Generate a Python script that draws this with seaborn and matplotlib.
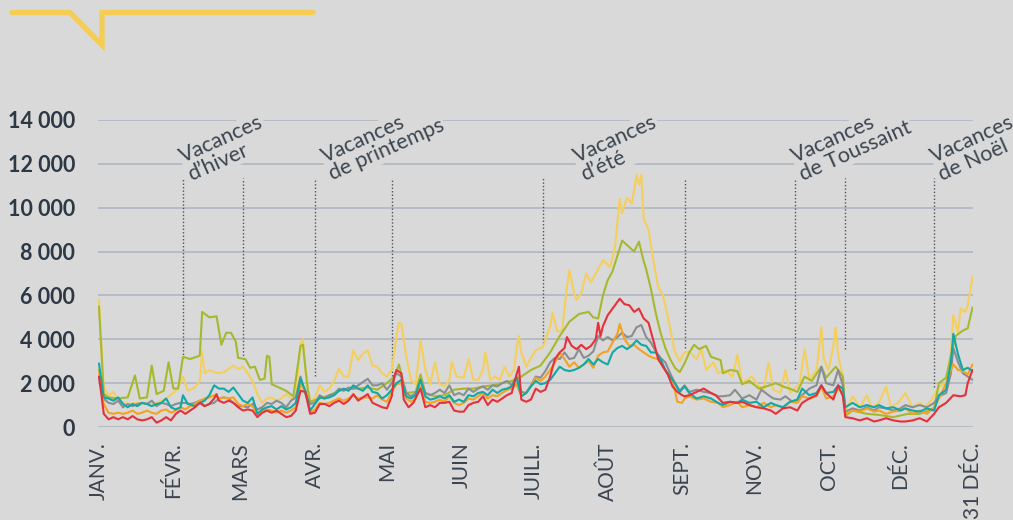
import pandas as pd
import matplotlib
matplotlib.use("Agg")
import matplotlib.pyplot as plt
from matplotlib.lines import Line2D
import seaborn as sns

# séries journalières : (jour de l'année, valeur)
jaune = [(0, 5800), (2, 1800), (4, 1450), (6, 1600), (8, 1200), (12, 1050), (16, 1100), (20, 1050), (24, 1100),
         (28, 1300), (32, 1650), (34, 2050), (35, 2300), (37, 1650), (40, 1800), (42, 2100), (43, 3450), (44, 2450),
         (46, 2600), (48, 2500), (50, 2450), (52, 2500), (54, 2650), (56, 2800), (58, 2650), (60, 2750), (62, 2450),
         (64, 2100), (66, 1500), (68, 1100), (70, 1300), (72, 1350), (74, 1200), (76, 1300), (78, 1500), (80, 1300),
         (82, 1350), (84, 3800), (85, 4000), (86, 2600), (88, 1100), (90, 1350), (92, 1900), (94, 1600), (96, 1750),
         (98, 2100), (100, 2650), (102, 2300), (104, 2300), (106, 3500), (108, 3050), (110, 3350), (112, 3500),
         (114, 2800), (116, 2750), (118, 2450), (120, 2300), (122, 2600), (124, 4150), (125, 4750), (126, 4700),
         (128, 3250), (130, 2150), (132, 1950), (134, 3950), (136, 2600), (138, 1950), (140, 2950), (142, 1950),
         (144, 1850), (146, 2150), (147, 2950), (149, 2300), (152, 2250), (154, 3100), (156, 2150), (158, 2150),
         (160, 2600), (161, 3400), (163, 2150), (165, 2300), (167, 2150), (169, 2750), (171, 2300), (173, 2600),
         (174, 3600), (175, 4150), (176, 3400), (178, 2750), (180, 3150), (182, 3500), (185, 3650), (188, 4600),
         (189, 5200), (191, 4350), (193, 4400), (195, 6400), (196, 7150), (198, 6100), (199, 5800), (201, 6100),
         (203, 7000), (205, 6600), (207, 7000), (210, 7600), (213, 7300), (215, 8200), (217, 10400), (218, 9750),
         (220, 10450), (222, 10200), (223, 10800), (224, 11500), (225, 11050), (226, 11500), (227, 9500),
         (229, 9000), (231, 7600), (233, 6400), (235, 6000), (237, 5050), (240, 3400), (242, 3000), (244, 3400),
         (246, 3450), (249, 3100), (251, 3550), (253, 2600), (256, 2950), (258, 2450), (261, 2600), (264, 2300),
         (266, 3300), (268, 2000), (272, 2300), (275, 1850), (277, 1700), (279, 2950), (281, 1700), (284, 1550),
         (286, 2600), (288, 1550), (292, 2000), (294, 3550), (296, 2150), (299, 2600), (301, 4550), (302, 3100),
         (304, 2600), (306, 3700), (307, 4550), (308, 3250), (310, 2300), (311, 750), (314, 1400), (317, 900),
         (320, 1450), (322, 900), (325, 1100), (328, 1850), (330, 900), (333, 1100), (336, 1550), (339, 900),
         (342, 1100), (344, 900), (347, 1250), (350, 1850), (353, 2000), (355, 3400), (356, 5100), (358, 4300),
         (359, 5400), (361, 5250), (362, 5550), (364, 6850)]

vert = [(0, 5500), (2, 1500), (4, 1350), (8, 1300), (12, 1350), (15, 2350), (17, 1300), (20, 1350), (22, 2800),
        (24, 1500), (27, 1650), (29, 2950), (31, 1750), (33, 1750), (35, 3200), (38, 3100), (42, 3250), (43, 5250),
        (46, 5000), (49, 5050), (51, 3750), (53, 4300), (55, 4300), (57, 3900), (58, 3150), (61, 3100), (63, 2700),
        (65, 2750), (67, 2150), (69, 2200), (70, 3250), (71, 3200), (72, 1950), (75, 1800), (78, 1650), (81, 1400),
        (84, 3700), (85, 3750), (87, 1700), (88, 1150), (92, 1300), (96, 1450), (100, 1650), (104, 1750),
        (108, 1750), (112, 1800), (116, 1700), (120, 2000), (123, 2300), (125, 2850), (128, 1550), (132, 1600),
        (134, 2400), (136, 1550), (140, 1400), (144, 1450), (148, 1700), (152, 1750), (156, 1750), (160, 1850),
        (164, 1900), (168, 2000), (172, 2100), (176, 2300), (180, 2600), (184, 2800), (188, 3400), (192, 4150),
        (196, 4800), (200, 5150), (204, 5250), (206, 5000), (208, 4950), (210, 6000), (212, 6700), (214, 7100),
        (216, 7800), (218, 8500), (220, 8300), (223, 8000), (225, 8450), (227, 7550), (228, 7200), (230, 6300),
        (232, 5200), (234, 4300), (236, 3600), (238, 3100), (240, 2700), (242, 2500), (244, 2900), (246, 3400),
        (248, 3750), (250, 3550), (253, 3700), (255, 3200), (259, 3050), (260, 2450), (263, 2600), (266, 2550),
        (268, 1950), (271, 2100), (275, 1750), (278, 1850), (282, 2000), (285, 1850), (289, 1700), (291, 1600),
        (294, 2300), (297, 2100), (301, 2750), (303, 2250), (307, 2750), (310, 2300), (311, 500), (314, 750),
        (320, 600), (325, 550), (331, 450), (337, 600), (342, 600), (348, 850), (350, 2000), (353, 2250),
        (355, 3250), (357, 4150), (360, 4400), (362, 4500), (364, 5450)]

gris = [(0, 2300), (2, 1300), (4, 1100), (6, 1050), (8, 1200), (10, 900), (12, 1050), (14, 950), (16, 1050),
        (18, 1100), (20, 1050), (22, 1200), (24, 950), (26, 1100), (28, 1050), (30, 950), (32, 1050), (34, 1100),
        (36, 1100), (38, 1050), (40, 1100), (42, 1200), (44, 950), (46, 1050), (48, 1100), (50, 1300), (52, 1350),
        (54, 1300), (56, 1100), (58, 950), (60, 950), (62, 900), (64, 1050), (66, 800), (68, 900), (70, 1100),
        (72, 1050), (74, 1200), (76, 1100), (78, 900), (80, 1200), (82, 1350), (84, 2300), (86, 1500), (88, 1050),
        (90, 1100), (92, 1450), (94, 1300), (96, 1450), (98, 1500), (100, 1750), (102, 1650), (104, 1800),
        (106, 1750), (108, 1900), (110, 2050), (112, 2200), (114, 1900), (116, 1900), (118, 2000), (120, 1700),
        (122, 2000), (124, 2450), (126, 2300), (128, 1550), (130, 1400), (132, 1550), (134, 2150), (136, 1550),
        (138, 1450), (140, 1550), (142, 1700), (144, 1550), (146, 1900), (148, 1450), (150, 1550), (152, 1450),
        (154, 1750), (156, 1600), (158, 1750), (160, 1850), (162, 1700), (164, 1900), (166, 1850), (168, 2000),
        (170, 2100), (172, 1900), (174, 2300), (176, 1600), (178, 1550), (180, 1900), (182, 2300), (184, 2250),
        (186, 2550), (188, 2950), (190, 3150), (192, 3100), (194, 3400), (196, 3100), (198, 3150), (200, 3550),
        (202, 3150), (204, 3250), (206, 3450), (208, 4150), (210, 3950), (212, 4100), (214, 3950), (216, 4100),
        (218, 4300), (220, 4100), (222, 4150), (224, 4550), (226, 4650), (228, 4100), (230, 3850), (232, 3450),
        (234, 3150), (236, 2950), (238, 2450), (240, 2000), (242, 1650), (244, 1900), (246, 1600), (249, 1700),
        (252, 1600), (255, 1550), (258, 1400), (260, 1400), (263, 1450), (265, 1700), (268, 1300), (271, 1450),
        (274, 1250), (276, 1700), (279, 1450), (281, 1300), (284, 1250), (286, 1400), (289, 1150), (291, 1250),
        (294, 1550), (296, 1750), (299, 1900), (301, 2750), (303, 2000), (306, 1900), (308, 2600), (310, 1900),
        (311, 700), (314, 850), (317, 750), (320, 900), (323, 750), (325, 900), (328, 850), (331, 750), (334, 850),
        (336, 1000), (339, 900), (342, 1000), (345, 900), (348, 1100), (350, 1400), (353, 1550), (355, 2450),
        (356, 3600), (358, 2950), (360, 2450), (362, 2300), (364, 2150)]

orange = [(0, 2600), (2, 1050), (4, 650), (6, 600), (8, 650), (10, 600), (12, 650), (14, 750), (16, 600),
          (18, 650), (20, 750), (22, 650), (24, 600), (26, 750), (28, 800), (30, 650), (32, 750), (34, 900),
          (36, 800), (38, 950), (40, 1050), (42, 1200), (44, 1300), (46, 1350), (48, 1450), (50, 1300), (52, 1350),
          (54, 1300), (56, 1350), (58, 1050), (60, 950), (62, 1050), (64, 950), (66, 600), (68, 750), (70, 800),
          (72, 750), (74, 650), (76, 750), (78, 650), (80, 750), (82, 900), (84, 1950), (86, 1650), (88, 650),
          (90, 800), (92, 1100), (94, 1050), (96, 1100), (98, 1200), (100, 1300), (102, 1200), (104, 1300),
          (106, 1450), (108, 1300), (110, 1350), (112, 1350), (114, 1300), (116, 1450), (118, 1250), (120, 1150),
          (122, 1600), (124, 1950), (126, 2000), (128, 1300), (130, 1150), (132, 1300), (134, 1850), (136, 1150),
          (138, 1100), (140, 1150), (142, 1250), (144, 1150), (146, 1400), (148, 1100), (150, 1000), (152, 1100),
          (154, 1300), (156, 1250), (158, 1400), (160, 1550), (162, 1300), (164, 1450), (166, 1400), (168, 1550),
          (170, 1700), (172, 1750), (174, 1950), (176, 1400), (178, 1550), (180, 1850), (182, 2250), (184, 2100),
          (186, 2300), (188, 2600), (190, 2950), (192, 3400), (194, 3100), (196, 2750), (198, 2950), (200, 2700),
          (202, 2850), (204, 3000), (206, 2700), (208, 3250), (210, 3400), (212, 3450), (214, 3850), (216, 4250),
          (217, 4700), (219, 4000), (221, 3700), (223, 3750), (225, 3550), (227, 3400), (229, 3250), (231, 3150),
          (233, 3100), (235, 2750), (237, 2450), (239, 2150), (241, 1150), (243, 1100), (244, 1300), (246, 1400),
          (249, 1250), (252, 1300), (255, 1150), (258, 1100), (260, 900), (263, 1000), (266, 1150), (268, 900),
          (271, 1000), (274, 900), (277, 1100), (280, 900), (282, 1000), (285, 900), (288, 1150), (291, 1100),
          (293, 1400), (296, 1300), (299, 1400), (301, 1850), (303, 1300), (306, 1400), (308, 1750), (310, 1550),
          (311, 600), (314, 750), (317, 700), (320, 850), (323, 700), (325, 750), (328, 600), (331, 700), (334, 750),
          (336, 850), (339, 600), (342, 750), (345, 600), (348, 900), (350, 1300), (353, 2000), (355, 2600),
          (356, 2850), (358, 2600), (360, 2550), (362, 2400), (364, 2850)]

turquoise = [(0, 2900), (2, 1350), (4, 1300), (6, 1200), (8, 1350), (10, 1050), (12, 900), (14, 1050), (16, 950),
             (18, 1100), (20, 1050), (22, 950), (24, 1050), (26, 1100), (28, 1300), (30, 900), (32, 800), (34, 900),
             (35, 1450), (37, 1050), (40, 950), (42, 1100), (44, 1200), (46, 1450), (48, 1900), (50, 1750),
             (52, 1750), (54, 1600), (56, 1800), (58, 1500), (60, 1200), (62, 1100), (64, 1350), (66, 600),
             (68, 800), (70, 900), (72, 950), (74, 800), (76, 950), (78, 800), (80, 900), (82, 1100), (84, 2200),
             (86, 1650), (88, 750), (90, 1050), (92, 1350), (94, 1300), (96, 1350), (98, 1450), (100, 1650),
             (102, 1750), (104, 1650), (106, 1900), (108, 1750), (110, 1650), (112, 1900), (114, 1600), (116, 1550),
             (118, 1300), (120, 1450), (122, 1700), (124, 2000), (126, 2150), (128, 1400), (130, 1300), (132, 1450),
             (134, 2150), (136, 1400), (138, 1250), (140, 1300), (142, 1400), (144, 1300), (146, 1450), (148, 1150),
             (150, 1250), (152, 1150), (154, 1450), (156, 1400), (158, 1550), (160, 1600), (162, 1450), (164, 1700),
             (166, 1550), (168, 1700), (170, 1750), (172, 1850), (174, 2250), (176, 1400), (178, 1550), (180, 1850),
             (182, 2100), (184, 1950), (186, 2000), (188, 2150), (190, 2450), (192, 2750), (194, 2600), (196, 2550),
             (198, 2600), (200, 2700), (202, 2850), (204, 3100), (206, 2850), (208, 3100), (210, 2950), (212, 2850),
             (214, 3400), (216, 3600), (218, 3700), (220, 3550), (222, 3700), (224, 3950), (226, 3750), (228, 3700),
             (230, 3400), (232, 3400), (234, 3100), (236, 2600), (238, 2300), (240, 2000), (242, 1600), (244, 1850),
             (246, 1550), (249, 1300), (252, 1400), (255, 1300), (258, 1100), (260, 1000), (263, 1150), (266, 1100),
             (268, 1250), (271, 1100), (274, 1150), (277, 900), (280, 1100), (282, 1000), (285, 900), (288, 1150),
             (291, 1250), (293, 1750), (296, 1450), (299, 1550), (301, 1900), (303, 1550), (306, 1600), (308, 1900),
             (310, 1750), (311, 900), (314, 1100), (317, 900), (320, 1000), (323, 900), (325, 1000), (328, 850),
             (331, 900), (334, 750), (336, 850), (339, 750), (342, 700), (345, 850), (348, 750), (350, 1450),
             (353, 1700), (355, 2950), (356, 4250), (358, 3300), (360, 2600), (362, 2700), (364, 2550)]

rouge = [(0, 2300), (1, 1500), (2, 600), (4, 350), (6, 450), (8, 350), (10, 450), (12, 350), (14, 500), (16, 350),
         (18, 300), (20, 350), (22, 450), (24, 200), (26, 300), (28, 450), (30, 300), (32, 600), (34, 750), (36, 600),
         (38, 750), (40, 900), (42, 1100), (44, 950), (46, 1050), (48, 1300), (49, 1500), (50, 1200), (52, 1100),
         (54, 1200), (56, 1100), (58, 900), (60, 750), (62, 800), (64, 750), (66, 450), (68, 650), (70, 750),
         (72, 650), (74, 750), (76, 600), (78, 450), (80, 500), (82, 750), (84, 1650), (86, 1600), (88, 600),
         (90, 650), (92, 1050), (94, 1050), (96, 950), (98, 1100), (100, 1200), (102, 1050), (104, 1200),
         (106, 1500), (108, 1200), (110, 1350), (112, 1500), (114, 1100), (116, 1000), (118, 900), (120, 850),
         (122, 1400), (123, 2300), (124, 2600), (126, 2450), (127, 1250), (129, 900), (131, 1100), (133, 1550),
         (134, 1750), (136, 900), (138, 1000), (140, 900), (142, 1100), (144, 1100), (146, 1150), (148, 750),
         (150, 700), (152, 700), (154, 1000), (156, 1100), (158, 1150), (160, 1400), (162, 1000), (164, 1250),
         (166, 1150), (168, 1300), (170, 1450), (172, 1550), (174, 2400), (175, 2750), (176, 1250), (178, 1150),
         (180, 1250), (182, 1750), (184, 1600), (186, 1700), (188, 2300), (190, 3100), (192, 3400), (194, 3600),
         (195, 4100), (197, 3700), (199, 3550), (201, 3750), (203, 3550), (205, 3700), (207, 4000), (208, 4750),
         (209, 4150), (210, 4600), (212, 5100), (214, 5400), (216, 5700), (217, 5850), (219, 5600), (221, 5550),
         (223, 5250), (225, 5400), (227, 4950), (229, 4750), (231, 3950), (233, 3100), (235, 2750), (237, 2400),
         (239, 1850), (241, 1600), (243, 1450), (244, 1400), (246, 1450), (249, 1600), (252, 1750), (255, 1550),
         (257, 1450), (260, 1100), (263, 1150), (266, 1100), (268, 1150), (271, 1000), (274, 900), (277, 850),
         (280, 750), (282, 600), (285, 850), (288, 900), (291, 750), (293, 1100), (296, 1300), (299, 1450),
         (301, 1900), (303, 1550), (306, 1250), (308, 1900), (310, 1400), (311, 450), (314, 400), (317, 300),
         (320, 400), (323, 250), (325, 300), (328, 400), (331, 300), (334, 250), (336, 250), (339, 300), (342, 400),
         (345, 250), (348, 600), (350, 900), (353, 1100), (356, 1450), (359, 1400), (361, 1450), (362, 2000),
         (364, 2600)]

series = {"jaune": jaune, "vert": vert, "gris": gris, "orange": orange, "turquoise": turquoise, "rouge": rouge}
couleurs = {"jaune": "#f5cf5c", "vert": "#a6b92e", "gris": "#8a8d92", "orange": "#f4a21f",
            "turquoise": "#12a8a5", "rouge": "#e6303b"}

# axe des mois (les étiquettes reprennent l'original, NOV. avant OCT.)
mois_jours = [0, 31, 59, 90, 120, 151, 181, 212, 243, 273, 304, 334, 364]
mois_labels = ["JANV.", "FÉVR.", "MARS", "AVR.", "MAI", "JUIN", "JUILL.", "AOÛT", "SEPT.",
               "NOV.", "OCT.", "DÉC.", "31 DÉC."]
y_ticks = [0, 2000, 4000, 6000, 8000, 10000, 12000, 14000]

# vacances scolaires : bornes (jour) et bas des pointillés, textes
vac_bornes = [35, 60, 90, 122, 185, 244, 290, 311, 348]
vac_bornes_bas = [3150, 3100, 2330, 2330, 3830, 3600, 2650, 3560, 1820]
vac_haut = 11350
vac_textes = ["Vacances\nd’hiver", "Vacances\nde printemps", "Vacances\nd’été",
              "Vacances\nde Toussaint", "Vacances\nde Noël"]
vac_texte_jour = [38.5, 97.5, 202.5, 293.5, 351.5]
vac_texte_y = 11200

fond = "#d9d9d9"
grille = "#b6bcc4"
encre = "#2c3944"
texte = "#3a4550"

rows = []
for nom, pts in series.items():
    for j, v in pts:
        rows.append({"jour": j, "valeur": v, "serie": nom})
df = pd.DataFrame(rows)

sns.set_style("white", {"axes.facecolor": fond, "figure.facecolor": fond})
plt.rcParams['font.family'] = ['Lato', 'DejaVu Sans']

fig = plt.figure(figsize=(10.13, 5.2), dpi=100)
ax = fig.add_axes([98 / 1013, 1 - 427 / 520, 875 / 1013, 307 / 520])

sns.lineplot(data=df, x="jour", y="valeur", hue="serie", hue_order=list(series.keys()),
             palette=couleurs, estimator=None, sort=True, linewidth=1.5, legend=False, ax=ax, zorder=3)

ax.set_xlim(-0.4, 364.2)
ax.set_ylim(0, 14000)
for s in ax.spines.values():
    s.set_visible(False)

ax.set_yticks(y_ticks)
ax.set_yticklabels([f"{v:,}".replace(",", " ") for v in y_ticks], fontsize=15.5,
                   fontweight="bold", color=encre)
ax.tick_params(axis="y", length=0, pad=16.5)
ax.yaxis.grid(True, color=grille, linewidth=1.4)
ax.set_axisbelow(True)

ax.set_xticks(mois_jours)
ax.set_xticklabels(mois_labels, rotation=90, fontsize=15, fontweight="normal", color=texte)
ax.tick_params(axis="x", length=5, width=1.2, color=encre, pad=6)
ax.set_xlabel("")
ax.set_ylabel("")

# pointillés des vacances
ax.vlines(vac_bornes, vac_bornes_bas, vac_haut, colors="#4a535c", linestyles=(0, (1, 1.5)),
          linewidth=1.0, zorder=2)

for txt, j in zip(vac_textes, vac_texte_jour):
    ax.text(j, vac_texte_y, txt, rotation=24, rotation_mode="anchor", ha="left", va="baseline",
            fontsize=15.5, fontweight="normal", color=texte, linespacing=0.95,
            bbox=dict(facecolor=fond, edgecolor="none", pad=1.0), zorder=4)

# filet jaune décoratif en haut à gauche
px = [12, 70, 102, 102, 313]
py = [12.5, 12.5, 45, 12.5, 12.5]
fig.add_artist(Line2D([x / 1013 for x in px], [1 - y / 520 for y in py], color="#f5cd55",
                      linewidth=3.8, solid_joinstyle="miter", transform=fig.transFigure))

fig.savefig("out.png", dpi=100, facecolor=fond)
